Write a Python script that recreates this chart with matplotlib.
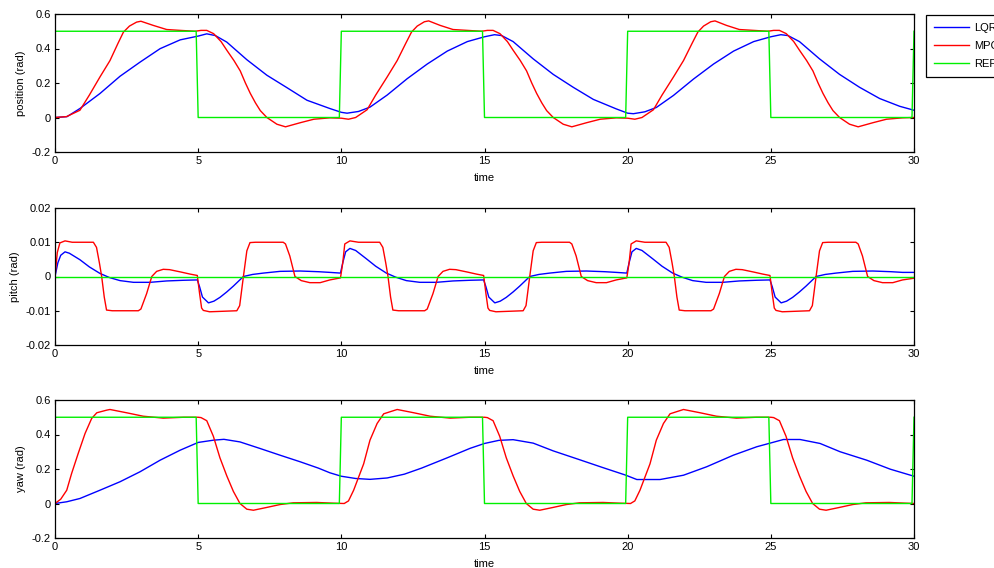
import matplotlib
matplotlib.use('Agg')
import matplotlib.pyplot as plt

plt.rcParams['font.family'] = ['Liberation Sans', 'DejaVu Sans']
plt.rcParams['font.size'] = 8

#参考信号(position与yaw相同)
ref_t = [0, 4.93, 5.0, 9.93, 10.0, 14.93, 15.0, 19.93, 20.0, 24.93, 25.0, 29.93, 30.0]
ref_step = [0.5, 0.5, 0, 0, 0.5, 0.5, 0, 0, 0.5, 0.5, 0, 0, 0.5]
pitch_ref_t = [0, 30]
pitch_ref = [0, 0]

#position LQR
pos_lqr_t = [0, 0.42, 0.87, 1.57, 2.27, 2.97, 3.67, 4.37, 5.0, 5.3, 5.6, 6.0, 6.7, 7.4, 8.1, 8.8, 9.6, 10.0,
             10.2, 10.6, 11.0, 11.6, 12.3, 13.0, 13.7, 14.4, 15.0, 15.35, 15.6, 16.0, 16.7, 17.4, 18.1, 18.8, 19.6, 20.0,
             20.2, 20.6, 21.0, 21.6, 22.3, 23.0, 23.7, 24.4, 25.0, 25.35, 25.6, 26.0, 26.7, 27.4, 28.1, 28.8, 29.5, 30.0]
pos_lqr = [0, 0.005, 0.052, 0.139, 0.239, 0.321, 0.399, 0.45, 0.472, 0.485, 0.475, 0.437, 0.335, 0.245, 0.173, 0.10, 0.052, 0.03,
           0.025, 0.035, 0.06, 0.13, 0.225, 0.31, 0.385, 0.44, 0.468, 0.48, 0.475, 0.44, 0.34, 0.25, 0.175, 0.105, 0.05, 0.025,
           0.022, 0.033, 0.058, 0.128, 0.223, 0.31, 0.385, 0.44, 0.468, 0.48, 0.475, 0.44, 0.34, 0.25, 0.175, 0.11, 0.065, 0.042]

#position MPC
pos_mpc_t = [0, 0.4, 0.87, 1.2, 1.57, 1.92, 2.2, 2.39, 2.6, 2.85, 3.0, 3.43, 3.9, 4.37, 4.9, 5.1, 5.3, 5.54, 5.8, 6.0,
             6.25, 6.47, 6.65, 6.82, 7.0, 7.17, 7.4, 7.75, 8.05, 8.57, 9.04, 9.6,
             10.0, 10.25, 10.5, 10.9, 11.2, 11.6, 11.95, 12.25, 12.45, 12.65, 12.9, 13.05, 13.45, 13.9, 14.4, 14.9, 15.1, 15.3,
             15.54, 15.8, 16.0, 16.25, 16.47, 16.65, 16.82, 17.0, 17.17, 17.4, 17.75, 18.05, 18.57, 19.04, 19.6,
             20.0, 20.25, 20.5, 20.9, 21.2, 21.6, 21.95, 22.25, 22.45, 22.65, 22.9, 23.05, 23.45, 23.9, 24.4, 24.9, 25.1, 25.3,
             25.54, 25.8, 26.0, 26.25, 26.47, 26.65, 26.82, 27.0, 27.17, 27.4, 27.75, 28.05, 28.57, 29.04, 29.6, 30.0]
pos_mpc = [0, 0.005, 0.042, 0.13, 0.235, 0.33, 0.43, 0.495, 0.53, 0.553, 0.558, 0.534, 0.51, 0.505, 0.50, 0.505, 0.505, 0.486, 0.44, 0.39,
           0.33, 0.27, 0.2, 0.14, 0.085, 0.04, 0.0, -0.039, -0.054, -0.03, -0.01, -0.002,
           -0.004, -0.01, 0.0, 0.045, 0.13, 0.235, 0.33, 0.43, 0.495, 0.53, 0.555, 0.56, 0.534, 0.51, 0.505, 0.50, 0.505, 0.505,
           0.486, 0.44, 0.39, 0.33, 0.27, 0.2, 0.14, 0.085, 0.04, 0.0, -0.039, -0.054, -0.03, -0.01, -0.002,
           -0.004, -0.01, 0.0, 0.045, 0.13, 0.235, 0.33, 0.43, 0.495, 0.53, 0.555, 0.56, 0.534, 0.51, 0.505, 0.50, 0.505, 0.505,
           0.486, 0.44, 0.39, 0.33, 0.27, 0.2, 0.14, 0.085, 0.04, 0.0, -0.039, -0.054, -0.03, -0.01, -0.002, 0.0]

#pitch LQR
pitch_lqr_t = [0, 0.1, 0.2, 0.35, 0.5, 0.87, 1.2, 1.57, 1.9, 2.27, 2.74, 3.32, 3.9, 4.5, 4.97, 5.05, 5.15, 5.36, 5.55, 5.76,
               6.0, 6.23, 6.58, 6.9, 7.28, 7.86, 8.56, 9.2, 9.6, 9.97,
               10.05, 10.15, 10.3, 10.5, 10.87, 11.2, 11.57, 11.9, 12.27, 12.74, 13.32, 13.9, 14.5, 14.97, 15.05, 15.15, 15.36, 15.55, 15.76,
               16.0, 16.23, 16.58, 16.9, 17.28, 17.86, 18.56, 19.2, 19.6, 19.97,
               20.05, 20.15, 20.3, 20.5, 20.87, 21.2, 21.57, 21.9, 22.27, 22.74, 23.32, 23.9, 24.5, 24.97, 25.05, 25.15, 25.36, 25.55, 25.76,
               26.0, 26.23, 26.58, 26.9, 27.28, 27.86, 28.56, 29.2, 29.6, 30.0]
pitch_lqr = [0, 0.004, 0.0062, 0.0072, 0.0068, 0.0049, 0.0028, 0.0009, -0.0003, -0.0012, -0.0017, -0.0017, -0.0013, -0.0011, -0.001, -0.003, -0.006, -0.0077, -0.0072, -0.0061,
             -0.0045, -0.0028, 0.0, 0.0006, 0.001, 0.0015, 0.0016, 0.0014, 0.0012, 0.001,
             0.004, 0.0072, 0.0082, 0.0076, 0.0052, 0.003, 0.001, -0.0002, -0.0012, -0.0017, -0.0017, -0.0013, -0.0011, -0.001, -0.003, -0.006, -0.0077, -0.0072, -0.0061,
             -0.0045, -0.0028, 0.0, 0.0006, 0.001, 0.0015, 0.0016, 0.0014, 0.0012, 0.001,
             0.004, 0.0072, 0.0082, 0.0076, 0.0052, 0.003, 0.001, -0.0002, -0.0012, -0.0017, -0.0017, -0.0013, -0.0011, -0.001, -0.003, -0.006, -0.0077, -0.0072, -0.0061,
             -0.0045, -0.0028, 0.0, 0.0006, 0.001, 0.0015, 0.0016, 0.0014, 0.0012, 0.0012]

#pitch MPC
pitch_mpc_t = [0, 0.08, 0.17, 0.35, 0.6, 1.34, 1.45, 1.55, 1.63, 1.72, 1.8, 2.0, 2.91, 3.0, 3.2, 3.38, 3.55, 3.78, 4.0, 4.4,
               4.72, 4.97, 5.05, 5.12, 5.18, 5.4, 6.35, 6.45, 6.58, 6.7, 6.81, 7.0, 7.97, 8.05, 8.2, 8.38, 8.6, 8.9, 9.26, 9.6, 9.97,
               10.05, 10.12, 10.3, 10.6, 11.34, 11.45, 11.55, 11.63, 11.72, 11.8, 12.0, 12.91, 13.0, 13.2, 13.38, 13.55, 13.78, 14.0, 14.4,
               14.72, 14.97, 15.05, 15.12, 15.18, 15.4, 16.35, 16.45, 16.58, 16.7, 16.81, 17.0, 17.97, 18.05, 18.2, 18.38, 18.6, 18.9, 19.26, 19.6, 19.97,
               20.05, 20.12, 20.3, 20.6, 21.34, 21.45, 21.55, 21.63, 21.72, 21.8, 22.0, 22.91, 23.0, 23.2, 23.38, 23.55, 23.78, 24.0, 24.4,
               24.72, 24.97, 25.05, 25.12, 25.18, 25.4, 26.35, 26.45, 26.58, 26.7, 26.81, 27.0, 27.97, 28.05, 28.2, 28.38, 28.6, 28.9, 29.26, 29.6, 30.0]
pitch_mpc = [0, 0.007, 0.0098, 0.0104, 0.01, 0.01, 0.0085, 0.004, 0.0, -0.006, -0.0098, -0.01, -0.01, -0.0095, -0.005, 0.0, 0.0015, 0.0021, 0.002, 0.0013,
             0.0007, 0.0003, -0.005, -0.0092, -0.0099, -0.0103, -0.01, -0.0085, 0.0, 0.0075, 0.0099, 0.01, 0.01, 0.0095, 0.006, 0.0, -0.0012, -0.0018, -0.0018, -0.001, -0.0004,
             0.004, 0.0095, 0.0104, 0.01, 0.01, 0.0085, 0.004, 0.0, -0.006, -0.0098, -0.01, -0.01, -0.0095, -0.005, 0.0, 0.0015, 0.0021, 0.002, 0.0013,
             0.0007, 0.0003, -0.005, -0.0092, -0.0099, -0.0103, -0.01, -0.0085, 0.0, 0.0075, 0.0099, 0.01, 0.01, 0.0095, 0.006, 0.0, -0.0012, -0.0018, -0.0018, -0.001, -0.0004,
             0.004, 0.0095, 0.0104, 0.01, 0.01, 0.0085, 0.004, 0.0, -0.006, -0.0098, -0.01, -0.01, -0.0095, -0.005, 0.0, 0.0015, 0.0021, 0.002, 0.0013,
             0.0007, 0.0003, -0.005, -0.0092, -0.0099, -0.0103, -0.01, -0.0085, 0.0, 0.0075, 0.0099, 0.01, 0.01, 0.0095, 0.006, 0.0, -0.0012, -0.0018, -0.0018, -0.001, -0.0005]

#yaw LQR
yaw_lqr_t = [0, 0.41, 0.87, 1.57, 2.27, 2.97, 3.67, 4.37, 5.0, 5.53, 5.9, 6.46, 7.16, 7.86, 8.56, 9.2, 9.6, 10.0,
             10.5, 11.0, 11.6, 12.2, 12.8, 13.7, 14.5, 15.0, 15.5, 16.0, 16.7, 17.4, 18.3, 19.1, 19.92,
             20.32, 21.13, 21.95, 22.76, 23.69, 24.51, 25.02, 25.44, 26.02, 26.72, 27.42, 28.35, 29.17, 30.0]
yaw_lqr = [0, 0.01, 0.029, 0.077, 0.126, 0.184, 0.251, 0.309, 0.354, 0.367, 0.372, 0.357, 0.319, 0.28, 0.242, 0.205, 0.178, 0.158,
           0.145, 0.14, 0.148, 0.17, 0.205, 0.265, 0.32, 0.348, 0.366, 0.37, 0.35, 0.305, 0.255, 0.21, 0.165,
           0.139, 0.139, 0.164, 0.213, 0.28, 0.329, 0.352, 0.371, 0.371, 0.348, 0.3, 0.251, 0.199, 0.158]

#yaw MPC
yaw_mpc_t = [0, 0.2, 0.41, 0.58, 0.81, 1.05, 1.28, 1.46, 1.8, 1.92, 2.5, 3.08, 3.78, 4.5, 5.0, 5.1, 5.3, 5.53, 5.76, 6.0,
             6.23, 6.46, 6.7, 6.93, 7.39, 7.86, 8.32, 9.14, 9.7,
             10.1, 10.25, 10.43, 10.78, 11.0, 11.25, 11.48, 11.95, 12.53, 13.1, 13.8, 14.5, 15.0, 15.1, 15.3, 15.53, 15.76, 16.0,
             16.23, 16.46, 16.7, 16.93, 17.39, 17.86, 18.32, 19.14, 19.7,
             20.1, 20.25, 20.43, 20.78, 21.0, 21.25, 21.48, 21.95, 22.53, 23.1, 23.8, 24.5, 25.0, 25.1, 25.3, 25.53, 25.76, 26.0,
             26.23, 26.46, 26.7, 26.93, 27.39, 27.86, 28.32, 29.14, 29.7, 30.0]
yaw_mpc = [0, 0.025, 0.077, 0.174, 0.29, 0.406, 0.493, 0.526, 0.541, 0.545, 0.526, 0.506, 0.495, 0.5, 0.5, 0.498, 0.48, 0.39, 0.265, 0.16,
           0.07, 0.0, -0.033, -0.039, -0.023, -0.006, 0.004, 0.006, 0.002,
           0.0, 0.015, 0.077, 0.23, 0.367, 0.464, 0.52, 0.545, 0.526, 0.506, 0.495, 0.5, 0.5, 0.498, 0.48, 0.39, 0.265, 0.16,
           0.07, 0.0, -0.033, -0.039, -0.023, -0.006, 0.004, 0.006, 0.002,
           0.0, 0.015, 0.077, 0.23, 0.367, 0.464, 0.52, 0.545, 0.526, 0.506, 0.495, 0.5, 0.5, 0.498, 0.48, 0.39, 0.265, 0.16,
           0.07, 0.0, -0.033, -0.039, -0.023, -0.006, 0.004, 0.006, 0.002, 0.0]

x_ticks = [0, 5, 10, 15, 20, 25, 30]
blue = '#0000ff'
red = '#ff0000'
green = '#00f000'

#draw_panel()画一个子图
def draw_panel(fig, rect, series, ylabel, ylim, yticks, ytick_labels):
    ax = fig.add_axes(rect)
    lines = []
    for t, v, c in series:
        ln, = ax.plot(t, v, color=c, lw=1.0)
        lines.append(ln)
    ax.set_xlim(0, 30)
    ax.set_ylim(*ylim)
    ax.set_xticks(x_ticks)
    ax.set_yticks(yticks)
    ax.set_yticklabels(ytick_labels)
    ax.tick_params(direction='in', length=3, width=0.8, top=True, right=True, labelsize=8, pad=3)
    ax.set_xlabel('time', fontsize=8, labelpad=5)
    ax.set_ylabel(ylabel, fontsize=8, labelpad=4)
    for s in ax.spines.values():
        s.set_linewidth(0.9)
    return ax, lines

def main():
    fig = plt.figure(figsize=(9.94, 5.68), dpi=100)
    left = 55 / 994
    width = 859 / 994
    ax1, lines = draw_panel(fig, [left, 1 - 152 / 568, width, 138 / 568],
                            [(pos_lqr_t, pos_lqr, blue), (pos_mpc_t, pos_mpc, red), (ref_t, ref_step, green)],
                            'position (rad)', (-0.2, 0.6), [-0.2, 0, 0.2, 0.4, 0.6], ['-0.2', '0', '0.2', '0.4', '0.6'])
    draw_panel(fig, [left, 1 - 345 / 568, width, 137 / 568],
               [(pitch_lqr_t, pitch_lqr, blue), (pitch_mpc_t, pitch_mpc, red), (pitch_ref_t, pitch_ref, green)],
               'pitch (rad)', (-0.02, 0.02), [-0.02, -0.01, 0, 0.01, 0.02], ['-0.02', '-0.01', '0', '0.01', '0.02'])
    draw_panel(fig, [left, 1 - 538 / 568, width, 138 / 568],
               [(yaw_lqr_t, yaw_lqr, blue), (yaw_mpc_t, yaw_mpc, red), (ref_t, ref_step, green)],
               'yaw (rad)', (-0.2, 0.6), [-0.2, 0, 0.2, 0.4, 0.6], ['-0.2', '0', '0.2', '0.4', '0.6'])
    leg = fig.legend(lines, ['LQR', 'MPC', 'REF'], loc='upper left',
                     bbox_to_anchor=(926 / 994, 1 - 15 / 568), fontsize=8,
                     handlelength=3.2, handletextpad=0.4, labelspacing=0.72,
                     borderpad=0.7, borderaxespad=0, fancybox=False, framealpha=1)
    leg.get_frame().set_edgecolor('black')
    leg.get_frame().set_linewidth(0.9)
    fig.savefig('out.png', dpi=100)

if __name__ == '__main__':
    main()
